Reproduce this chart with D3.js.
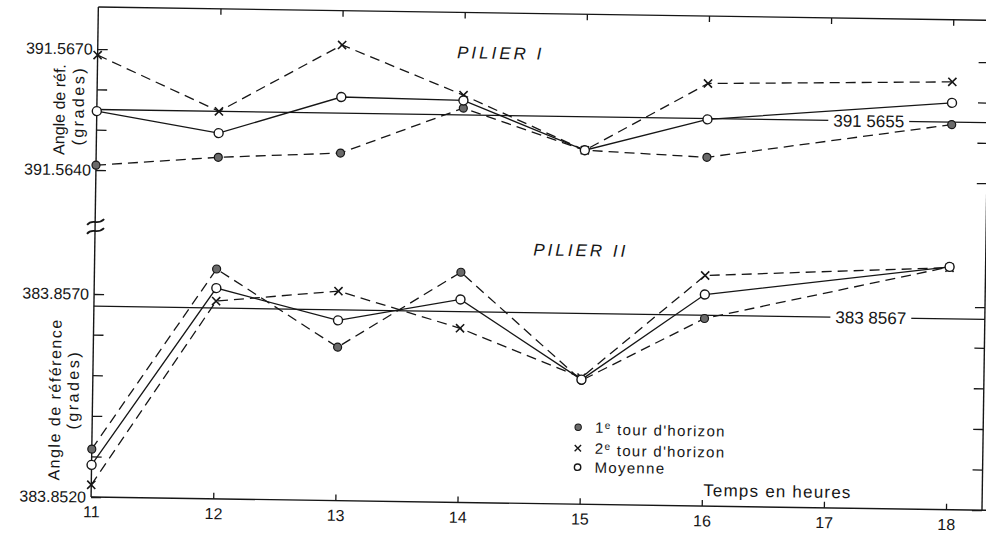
<!DOCTYPE html>
<html>
<head>
<meta charset="utf-8">
<script src="https://cdn.jsdelivr.net/npm/d3@7"></script>
<style>
body{margin:0;background:#fff}
svg{display:block}
text{font-family:"Liberation Sans",Arial,sans-serif;fill:#161616}
</style>
</head>
<body>
<svg width="986" height="534"></svg>
<script>
// heures de mesure (pas de mesure a 17h)
var heures=[11,12,13,14,15,16,18];
var xTicks=[11,12,13,14,15,16,17,18];

// Pilier I (grades)
var p1Tour1=[391.56412,391.56436,391.56451,391.56567,391.56467,391.56454,391.56544];
var p1Tour2=[391.56685,391.56550,391.56719,391.56599,391.56467,391.56637,391.56650];
var p1Moy  =[391.56546,391.56496,391.56590,391.56586,391.56467,391.56548,391.56598];
var p1Ref=391.5655;
var p1Ticks=[391.5640,391.5650,391.5660,391.5670];
var p1Labels=["391.5640","","","391.5670"];

// Pilier II (grades)
var p2Tour1=[383.85318,383.85766,383.85578,383.85767,383.85505,383.85662,383.85798];
var p2Tour2=[383.85230,383.85687,383.85716,383.85629,383.85512,383.85768,383.85796];
var p2Moy  =[383.85279,383.85719,383.85644,383.85700,383.85507,383.85721,383.85798];
var p2Ref=383.8567;
var p2Ticks=[383.8520,383.8530,383.8540,383.8550,383.8560,383.8570];
var p2Labels=["383.8520","","","","","383.8570"];

var fLeft=94, fRight=985, fTop=7, fBottom=497;
var ink="#161616";

var svg=d3.select("svg");
// le document scanne est legerement tourne
var g=svg.append("g").attr("transform","rotate(0.85,"+fLeft+",300)");

var x=d3.scaleLinear().domain([11,18]).range([fLeft,949]);
var yTop=d3.scaleLinear().domain([391.5640,391.5670]).range([170,49]);
var yBot=d3.scaleLinear().domain([383.8520,383.8570]).range([fBottom,294]);

// cadre
g.append("line").attr("x1",fLeft).attr("x2",fLeft).attr("y1",fTop).attr("y2",fBottom)
	.attr("stroke",ink).attr("stroke-width",1.4);
g.append("line").attr("x1",fLeft).attr("x2",fRight+10).attr("y1",fTop).attr("y2",fTop)
	.attr("stroke",ink).attr("stroke-width",1.4);
g.append("line").attr("x1",fLeft).attr("x2",fRight+10).attr("y1",fBottom).attr("y2",fBottom)
	.attr("stroke",ink).attr("stroke-width",1.4);
g.append("line").attr("x1",fRight).attr("x2",fRight).attr("y1",fTop).attr("y2",fBottom)
	.attr("stroke",ink).attr("stroke-width",1.4);

// coupure de l'axe
[222,231].forEach(function(yy){
	g.append("path")
		.attr("d","M"+(fLeft-8)+","+(yy+3)+" C"+(fLeft-3)+","+(yy-4)+" "+(fLeft+2)+","+(yy+4)+" "+(fLeft+9)+","+(yy-3))
		.attr("fill","none").attr("stroke",ink).attr("stroke-width",1.8);
});

function styleAxis(sel){
	sel.select(".domain").remove();
	sel.selectAll("line").attr("stroke",ink).attr("stroke-width",1.3);
	sel.selectAll("text").style("font-size","16px").attr("fill",ink);
}

// axes gauche
g.append("g").attr("transform","translate("+fLeft+",0)")
	.call(d3.axisLeft(yTop).tickValues(p1Ticks).tickSizeInner(-10).tickSizeOuter(0).tickPadding(5)
		.tickFormat(function(d,i){return p1Labels[i];}))
	.call(styleAxis);
g.append("g").attr("transform","translate("+fLeft+",0)")
	.call(d3.axisLeft(yBot).tickValues(p2Ticks).tickSizeInner(-10).tickSizeOuter(0).tickPadding(5)
		.tickFormat(function(d,i){return p2Labels[i];}))
	.call(styleAxis);

// axes droits (sans etiquettes)
g.append("g").attr("transform","translate("+fRight+",0)")
	.call(d3.axisRight(yTop).tickValues(p1Ticks).tickSizeInner(-10).tickSizeOuter(0).tickFormat(""))
	.call(styleAxis);
g.append("g").attr("transform","translate("+fRight+",0)")
	.call(d3.axisRight(yBot).tickValues(p2Ticks).tickSizeInner(-10).tickSizeOuter(0).tickFormat(""))
	.call(styleAxis);

// axe du temps
g.append("g").attr("transform","translate(0,"+fBottom+")")
	.call(d3.axisBottom(x).tickValues(xTicks).tickSizeInner(-6).tickSizeOuter(0).tickPadding(9)
		.tickFormat(d3.format("d")))
	.call(styleAxis)
	.call(function(s){s.selectAll("line").filter(function(d){return d==11;}).remove();});
g.append("g").attr("transform","translate(0,"+fTop+")")
	.call(d3.axisTop(x).tickValues(xTicks.slice(1)).tickSizeInner(-6).tickSizeOuter(0).tickFormat(""))
	.call(styleAxis);

// lignes de reference
function refLine(y,val,label,lx){
	g.append("line").attr("x1",fLeft).attr("x2",fRight).attr("y1",y(val)).attr("y2",y(val))
		.attr("stroke",ink).attr("stroke-width",1.3);
	var bg=g.append("rect").attr("fill","#fff");
	var t=g.append("text").attr("x",lx).attr("y",y(val)).attr("dy","0.35em")
		.attr("text-anchor","middle").style("font-size","17px").text(label);
	var b=t.node().getBBox();
	bg.attr("x",b.x-5).attr("y",b.y+3).attr("width",b.width+10).attr("height",b.height-6);
}
refLine(yTop,p1Ref,"391 5655",866);
refLine(yBot,p2Ref,"383 8567",871);

// series
var line=d3.line().x(function(d,i){return x(heures[i]);});

function drawSeries(y,vals,dash){
	g.append("path").datum(vals)
		.attr("d",line.y(function(d){return y(d);}))
		.attr("fill","none").attr("stroke",ink).attr("stroke-width",1.3)
		.attr("stroke-dasharray",dash);
}
function markTour1(y,vals){
	g.selectAll(null).data(vals).enter().append("circle")
		.attr("cx",function(d,i){return x(heures[i]);}).attr("cy",function(d){return y(d);})
		.attr("r",4).attr("fill","#6a6a6a").attr("stroke",ink).attr("stroke-width",1.2);
}
var timesSym=d3.symbol().type(d3.symbolTimes||d3.symbolCross).size(45);
function markTour2(y,vals){
	g.selectAll(null).data(vals).enter().append("path")
		.attr("transform",function(d,i){return "translate("+x(heures[i])+","+y(d)+")";})
		.attr("d",timesSym).attr("fill","none").attr("stroke",ink).attr("stroke-width",1.6);
}
function markMoy(y,vals){
	g.selectAll(null).data(vals).enter().append("circle")
		.attr("cx",function(d,i){return x(heures[i]);}).attr("cy",function(d){return y(d);})
		.attr("r",4.5).attr("fill","#fff").attr("stroke",ink).attr("stroke-width",1.4);
}

drawSeries(yTop,p1Tour1,"10,6");
drawSeries(yTop,p1Tour2,"10,6");
drawSeries(yTop,p1Moy,null);
drawSeries(yBot,p2Tour1,"10,6");
drawSeries(yBot,p2Tour2,"10,6");
drawSeries(yBot,p2Moy,null);
markTour1(yTop,p1Tour1); markTour2(yTop,p1Tour2); markMoy(yTop,p1Moy);
markTour1(yBot,p2Tour1); markTour2(yBot,p2Tour2); markMoy(yBot,p2Moy);

// titres
g.append("text").attr("x",497).attr("y",47).attr("dy","0.35em").attr("text-anchor","middle")
	.style("font-size","17px").style("font-style","italic").style("letter-spacing","3px").text("PILIER I");
g.append("text").attr("x",580).attr("y",243).attr("dy","0.35em").attr("text-anchor","middle")
	.style("font-size","17px").style("font-style","italic").style("letter-spacing","3px").text("PILIER II");

function yTitle(cx,cy,txt,spacing){
	g.append("text").attr("transform","translate("+cx+","+cy+") rotate(-90)")
		.attr("text-anchor","middle").style("font-size","16px").style("letter-spacing",spacing+"px").text(txt);
}
yTitle(62,110,"Angle de réf.",0);
yTitle(81,106,"(grades)",2.5);
yTitle(62,400,"Angle de référence",1.5);
yTitle(80,390,"(grades)",2.5);

g.append("text").attr("x",706).attr("y",487).style("font-size","17px").style("letter-spacing","1.2px")
	.text("Temps  en  heures");

// legende
var legY=[420,441,460];
var leg=g.append("g").attr("transform","translate(580,0)");
leg.append("circle").attr("cx",0).attr("cy",legY[0]).attr("r",3.2).attr("fill","#6a6a6a").attr("stroke",ink);
leg.append("path").attr("transform","translate(0,"+legY[1]+")").attr("d",d3.symbol().type(d3.symbolTimes||d3.symbolCross).size(28))
	.attr("fill","none").attr("stroke",ink).attr("stroke-width",1.4);
leg.append("circle").attr("cx",0).attr("cy",legY[2]).attr("r",3.2).attr("fill","#fff").attr("stroke",ink).attr("stroke-width",1.4);

var legTxt=[["1","e"," tour d'horizon"],["2","e"," tour d'horizon"],["Moyenne","",""]];
legTxt.forEach(function(t,i){
	var tx=leg.append("text").attr("x",17).attr("y",legY[i]).attr("dy","0.35em")
		.style("font-size","15px").style("letter-spacing","1.3px");
	tx.append("tspan").text(t[0]);
	if(t[1]) tx.append("tspan").attr("dy","-0.4em").style("font-size","10px").text(t[1]);
	if(t[2]) tx.append("tspan").attr("dy","0.4em").text(t[2]);
});
</script>
</body>
</html>
